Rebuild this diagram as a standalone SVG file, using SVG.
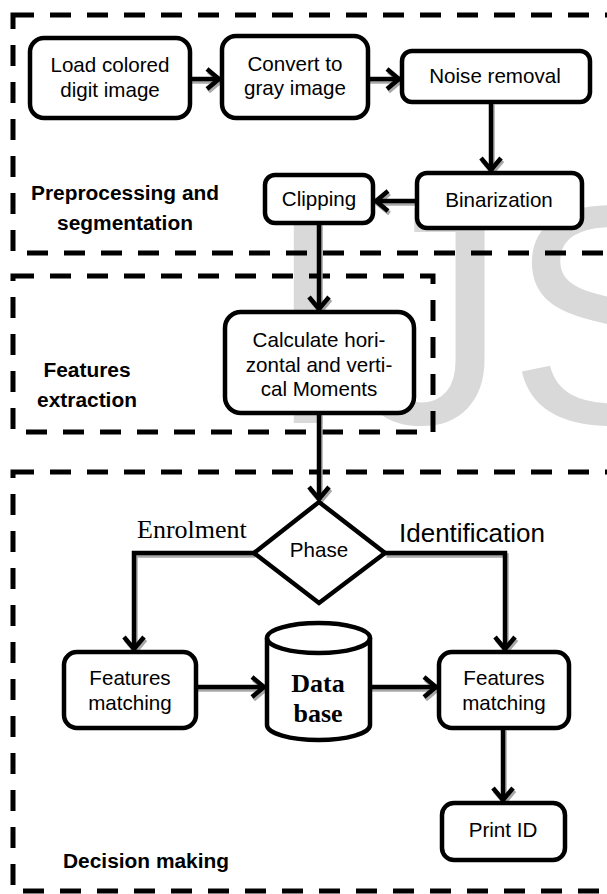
<svg xmlns="http://www.w3.org/2000/svg" width="607" height="894" viewBox="0 0 607 894">
<style>
.bg{fill:#ffffff}
.wm{fill:#d9d9d9;font-family:"Liberation Sans",Arial,sans-serif;font-size:312px}
.frame{fill:none;stroke:#000;stroke-width:5;stroke-dasharray:21 16}
.box{fill:#fff;stroke:#000;stroke-width:4.5}
.t{font-family:"Liberation Sans",Arial,sans-serif;font-size:20.6px;fill:#000;text-anchor:middle}
.lbl{font-family:"Liberation Sans",Arial,sans-serif;font-size:20.9px;font-weight:bold;fill:#000;text-anchor:middle}
.db{font-family:"Liberation Serif","Times New Roman",serif;font-size:26px;font-weight:bold;fill:#000;text-anchor:middle}
.en{font-family:"Liberation Serif","Times New Roman",serif;font-size:26px;fill:#000}
.id{font-family:"Liberation Sans",Arial,sans-serif;font-size:26px;fill:#000}
.c{fill:none;stroke:#000;stroke-width:4.5;marker-end:url(#arr)}
.cs{fill:none;stroke:#a8a8a8;stroke-width:4.5;marker-end:url(#arrs)}
.cn{fill:none;stroke:#000;stroke-width:4.5}
.cns{fill:none;stroke:#a8a8a8;stroke-width:4.5}
</style>
<defs>
<marker id="arr" markerUnits="userSpaceOnUse" markerWidth="30" markerHeight="30" viewBox="-20 -15 25 30" refX="0" refY="0" orient="auto">
<path d="M-13,-10 L-1,0 L-13,10" fill="none" stroke="#000" stroke-width="4.5" stroke-linejoin="miter"/>
</marker>
<marker id="arrs" markerUnits="userSpaceOnUse" markerWidth="30" markerHeight="30" viewBox="-20 -15 25 30" refX="0" refY="0" orient="auto">
<path d="M-13,-10 L-1,0 L-13,10" fill="none" stroke="#a8a8a8" stroke-width="4.5" stroke-linejoin="miter"/>
</marker>
</defs>
<rect class="bg" x="0" y="0" width="607" height="894"/>
<g id="watermark">
<text class="wm" x="265" y="423">IJS</text>
</g>
<g id="sections">
<g id="sec-preprocessing">
<rect class="frame" x="13" y="15" width="620" height="238"/>
<text class="lbl" x="125" y="200">Preprocessing and</text>
<text class="lbl" x="125" y="230">segmentation</text>
</g>
<g id="sec-features">
<rect class="frame" x="13" y="276" width="420" height="156"/>
<text class="lbl" x="87" y="377">Features</text>
<text class="lbl" x="87" y="407">extraction</text>
</g>
<g id="sec-decision">
<rect class="frame" x="13" y="472" width="620" height="419"/>
<text class="lbl" x="63" y="868" style="text-anchor:start">Decision making</text>
</g>
</g>
<g id="connectors">
<g id="shadows" transform="translate(1.5,2.5)">
<path class="cs" d="M190,79 H220"/>
<path class="cs" d="M368,79 H400"/>
<path class="cs" d="M491,102 V171"/>
<path class="cs" d="M417,201 H375"/>
<path class="cs" d="M319,223 V310"/>
<path class="cs" d="M319,413 V500"/>
<path class="cs" d="M254,553 H134 V650"/>
<path class="cs" d="M385,553 H505 V650"/>
<path class="cs" d="M196,687 H265"/>
<path class="cs" d="M370,687 H437"/>
<path class="cs" d="M503,728 V801"/>
</g>
<path class="c" d="M190,79 H220"/>
<path class="c" d="M368,79 H400"/>
<path class="c" d="M491,102 V171"/>
<path class="c" d="M417,201 H375"/>
<path class="c" d="M319,223 V310"/>
<path class="c" d="M319,413 V500"/>
<path class="c" d="M254,553 H134 V650"/>
<path class="c" d="M385,553 H505 V650"/>
<path class="c" d="M196,687 H265"/>
<path class="c" d="M370,687 H437"/>
<path class="c" d="M503,728 V801"/>
</g>
<g id="load">
<rect class="box" x="30" y="38" width="160" height="80" rx="14"/>
<text class="t" x="110" y="72">Load colored</text>
<text class="t" x="110" y="97">digit image</text>
</g>
<g id="convert">
<rect class="box" x="222" y="36" width="146" height="82" rx="14"/>
<text class="t" x="295" y="71">Convert to</text>
<text class="t" x="295" y="95">gray image</text>
</g>
<g id="noise">
<rect class="box" x="402" y="51" width="188" height="51" rx="10"/>
<text class="t" x="495" y="83">Noise removal</text>
</g>
<g id="binarization">
<rect class="box" x="417" y="173" width="165" height="55" rx="10"/>
<text class="t" x="499" y="207">Binarization</text>
</g>
<g id="clipping">
<rect class="box" x="265" y="175" width="108" height="48" rx="10"/>
<text class="t" x="319" y="206">Clipping</text>
</g>
<g id="moments">
<rect class="box" x="225" y="312" width="189" height="101" rx="16"/>
<text class="t" x="319" y="347">Calculate hori-</text>
<text class="t" x="319" y="372">zontal and verti-</text>
<text class="t" x="319" y="396">cal Moments</text>
</g>
<g id="phase">
<path class="box" d="M319,502 L385,553 L319,603 L254,553 Z"/>
<text class="t" x="319" y="557">Phase</text>
<text class="en" x="137" y="538">Enrolment</text>
<text class="id" x="399" y="542">Identification</text>
</g>
<g id="match-left">
<rect class="box" x="64" y="652" width="132" height="76" rx="13"/>
<text class="t" x="130" y="685">Features</text>
<text class="t" x="130" y="710">matching</text>
</g>
<g id="database">
<path class="box" d="M267,638 A51.5,15 0 0,1 370,638 L370,725 A51.5,15 0 0,1 267,725 Z"/>
<path class="box" style="fill:none" d="M267,638 A51.5,15 0 0,0 370,638"/>
<text class="db" x="318" y="692">Data</text>
<text class="db" x="318" y="722">base</text>
</g>
<g id="match-right">
<rect class="box" x="439" y="652" width="130" height="76" rx="13"/>
<text class="t" x="504" y="685">Features</text>
<text class="t" x="504" y="710">matching</text>
</g>
<g id="print">
<rect class="box" x="442" y="803" width="123" height="57" rx="12"/>
<text class="t" x="503" y="837">Print ID</text>
</g>
</svg>
